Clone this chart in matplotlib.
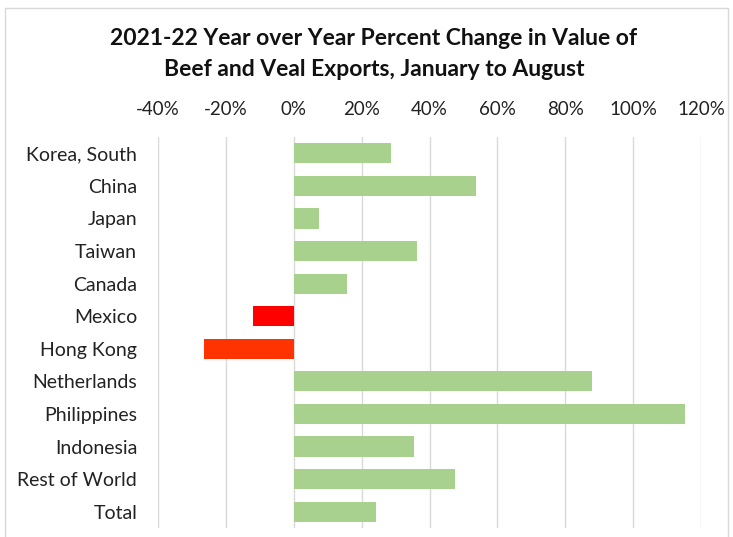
import matplotlib
matplotlib.use("Agg")
import matplotlib.pyplot as plt
from matplotlib.patches import Rectangle
from matplotlib.ticker import FuncFormatter, MultipleLocator

categories = ["Korea, South", "China", "Japan", "Taiwan", "Canada", "Mexico",
              "Hong Kong", "Netherlands", "Philippines", "Indonesia",
              "Rest of World", "Total"]
values = [28.7, 53.8, 7.4, 36.4, 15.7, -12.0, -26.5, 87.9, 115.2, 35.4, 47.6, 24.3]
colors = ["#A9D18E"] * 5 + ["#FF0000", "#FF3300"] + ["#A9D18E"] * 5
title = "2021-22 Year over Year Percent Change in Value of\nBeef and Veal Exports, January to August"

plt.rcParams['font.family'] = ['Lato', 'DejaVu Sans']

fig = plt.figure(figsize=(7.33, 5.37), dpi=100)
ax = fig.add_axes([158/733, 1 - 528/537, (701 - 158)/733, (528 - 137)/537])

y = list(range(len(categories)))
ax.barh(y, values, height=0.62, color=colors, zorder=3)
ax.set_ylim(len(categories) - 0.5, -0.5)
ax.set_yticks(y)
ax.set_yticklabels(categories, fontsize=14, color="#222222")
ax.set_xlim(-40, 120)
ax.xaxis.set_major_locator(MultipleLocator(20))
ax.xaxis.set_major_formatter(FuncFormatter(lambda v, p: f"{v:.0f}%"))
ax.xaxis.tick_top()
ax.tick_params(axis='x', length=0, pad=14, labelsize=13.5, labelcolor="#222222")
ax.tick_params(axis='y', length=0, pad=15)
ax.grid(axis='x', color="#D9D9D9", linewidth=1, zorder=0)
for s in ax.spines.values():
    s.set_visible(False)

fig.text(374/733, 1 - 54/537, title, ha='center', va='center', fontsize=16.5,
         fontweight='bold', color="#111111", linespacing=1.55)

fig.patches.append(Rectangle((5/733, -0.01), 723/733, 1 - 8/537 + 0.01,
                             transform=fig.transFigure, fill=False,
                             edgecolor="#D9D9D9", linewidth=1))

fig.savefig("out.png", dpi=100)
